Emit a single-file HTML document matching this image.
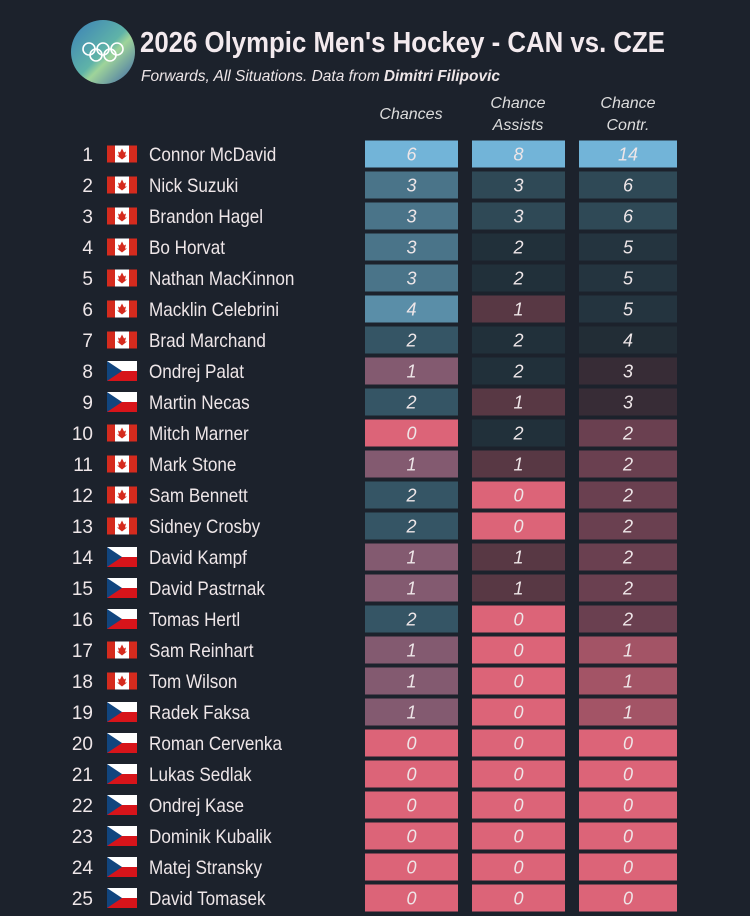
<!DOCTYPE html><html><head><meta charset="utf-8"><style>
body{margin:0;background:#1c222c;}
svg{display:block}
text{font-family:"Liberation Sans",sans-serif;fill:#eee6e8}
.n{font-size:19px}
.v{font-size:18px;font-style:italic;text-anchor:middle}
.h{font-size:16px;font-style:italic;text-anchor:middle;fill:#ddd}
.r{font-size:19px;text-anchor:end}
</style></head><body>
<svg width="750" height="916" viewBox="0 0 750 916">
<defs>
<linearGradient id="lg" x1="0" y1="0" x2="1" y2="1"><stop offset="0" stop-color="#3a7fb8"/><stop offset="0.5" stop-color="#5fb3a8"/><stop offset="0.6" stop-color="#9fd49a"/><stop offset="1" stop-color="#3a64a8"/></linearGradient>
<g id="ca"><rect width="30" height="17" fill="#fff"/><rect width="8" height="17" fill="#d52b1e"/><rect x="22" width="8" height="17" fill="#d52b1e"/><path d="M15 3 L17 7 L19 6 L18 10 L20 10 L15 14 L10 10 L12 10 L11 6 L13 7Z" fill="#d52b1e"/></g>
<g id="cz"><rect width="30" height="10" fill="#fff"/><rect y="10" width="30" height="10" fill="#d7141a"/><path d="M0 0 L15 10 L0 20Z" fill="#11457e"/></g>
</defs>
<rect width="750" height="916" fill="#1c222c"/>
<circle cx="103" cy="52" r="32" fill="url(#lg)"/>
<g fill="none" stroke="#fff" stroke-width="1.6"><circle cx="89" cy="49" r="6"/><circle cx="103" cy="49" r="6"/><circle cx="117" cy="49" r="6"/><circle cx="96" cy="55" r="6"/><circle cx="110" cy="55" r="6"/></g>
<text x="140" y="52" font-size="29" font-weight="bold" textLength="525" lengthAdjust="spacingAndGlyphs" style="fill:#f3eaee">2026 Olympic Men's Hockey - CAN vs. CZE</text>
<text x="141" y="81" font-size="16" font-style="italic" textLength="359" lengthAdjust="spacingAndGlyphs">Forwards, All Situations. Data from <tspan font-weight="bold">Dimitri Filipovic</tspan></text>
<text class="h" x="411" y="119">Chances</text>
<text class="h" x="518" y="108">Chance</text><text class="h" x="518" y="130">Assists</text>
<text class="h" x="628" y="108">Chance</text><text class="h" x="628" y="130">Contr.</text>
<g id="rows"></g>
</svg>
<script>
var d=[["C","Connor McDavid",6,8,14],["C","Nick Suzuki",3,3,6],["C","Brandon Hagel",3,3,6],["C","Bo Horvat",3,2,5],["C","Nathan MacKinnon",3,2,5],["C","Macklin Celebrini",4,1,5],["C","Brad Marchand",2,2,4],["Z","Ondrej Palat",1,2,3],["Z","Martin Necas",2,1,3],["C","Mitch Marner",0,2,2],["C","Mark Stone",1,1,2],["C","Sam Bennett",2,0,2],["C","Sidney Crosby",2,0,2],["Z","David Kampf",1,1,2],["Z","David Pastrnak",1,1,2],["Z","Tomas Hertl",2,0,2],["C","Sam Reinhart",1,0,1],["C","Tom Wilson",1,0,1],["Z","Radek Faksa",1,0,1],["Z","Roman Cervenka",0,0,0],["Z","Lukas Sedlak",0,0,0],["Z","Ondrej Kase",0,0,0],["Z","Dominik Kubalik",0,0,0],["Z","Matej Stransky",0,0,0],["Z","David Tomasek",0,0,0]];
var c1={6:"#72b4d8",4:"#5a8ea8",3:"#4a7489",2:"#355565",1:"#835a70",0:"#dc6478"};
var c2={8:"#72b4d8",3:"#2f4956",2:"#21303a",1:"#583844",0:"#dc6478"};
var c3={14:"#72b4d8",6:"#2f4956",5:"#24343f",4:"#222d36",3:"#372c36",2:"#6a4050",1:"#a35466",0:"#dc6478"};
var cols=[[365,93,c1],[472,93,c2],[579,98,c3]];
var s="";
d.forEach(function(r,i){var c=154+31*i;
s+='<text class="r" x="93" y="'+(c+7)+'">'+(i+1)+'</text>';
s+='<use href="#'+(r[0]=="C"?"ca":"cz")+'" x="107" y="'+(c-(r[0]=="C"?8.5:10))+'"/>';
s+='<text class="n" transform="translate(149,'+(c+7)+') scale(0.9,1)">'+r[1]+'</text>';
for(var k=0;k<3;k++){var v=r[k+2],col=cols[k];
s+='<rect x="'+col[0]+'" y="'+(c-13.5)+'" width="'+col[1]+'" height="27" fill="'+col[2][v]+'"/>';
s+='<text class="v" x="'+(col[0]+col[1]/2)+'" y="'+(c+6.5)+'">'+v+'</text>';}
});
document.getElementById("rows").innerHTML=s;
</script>
</body></html>
